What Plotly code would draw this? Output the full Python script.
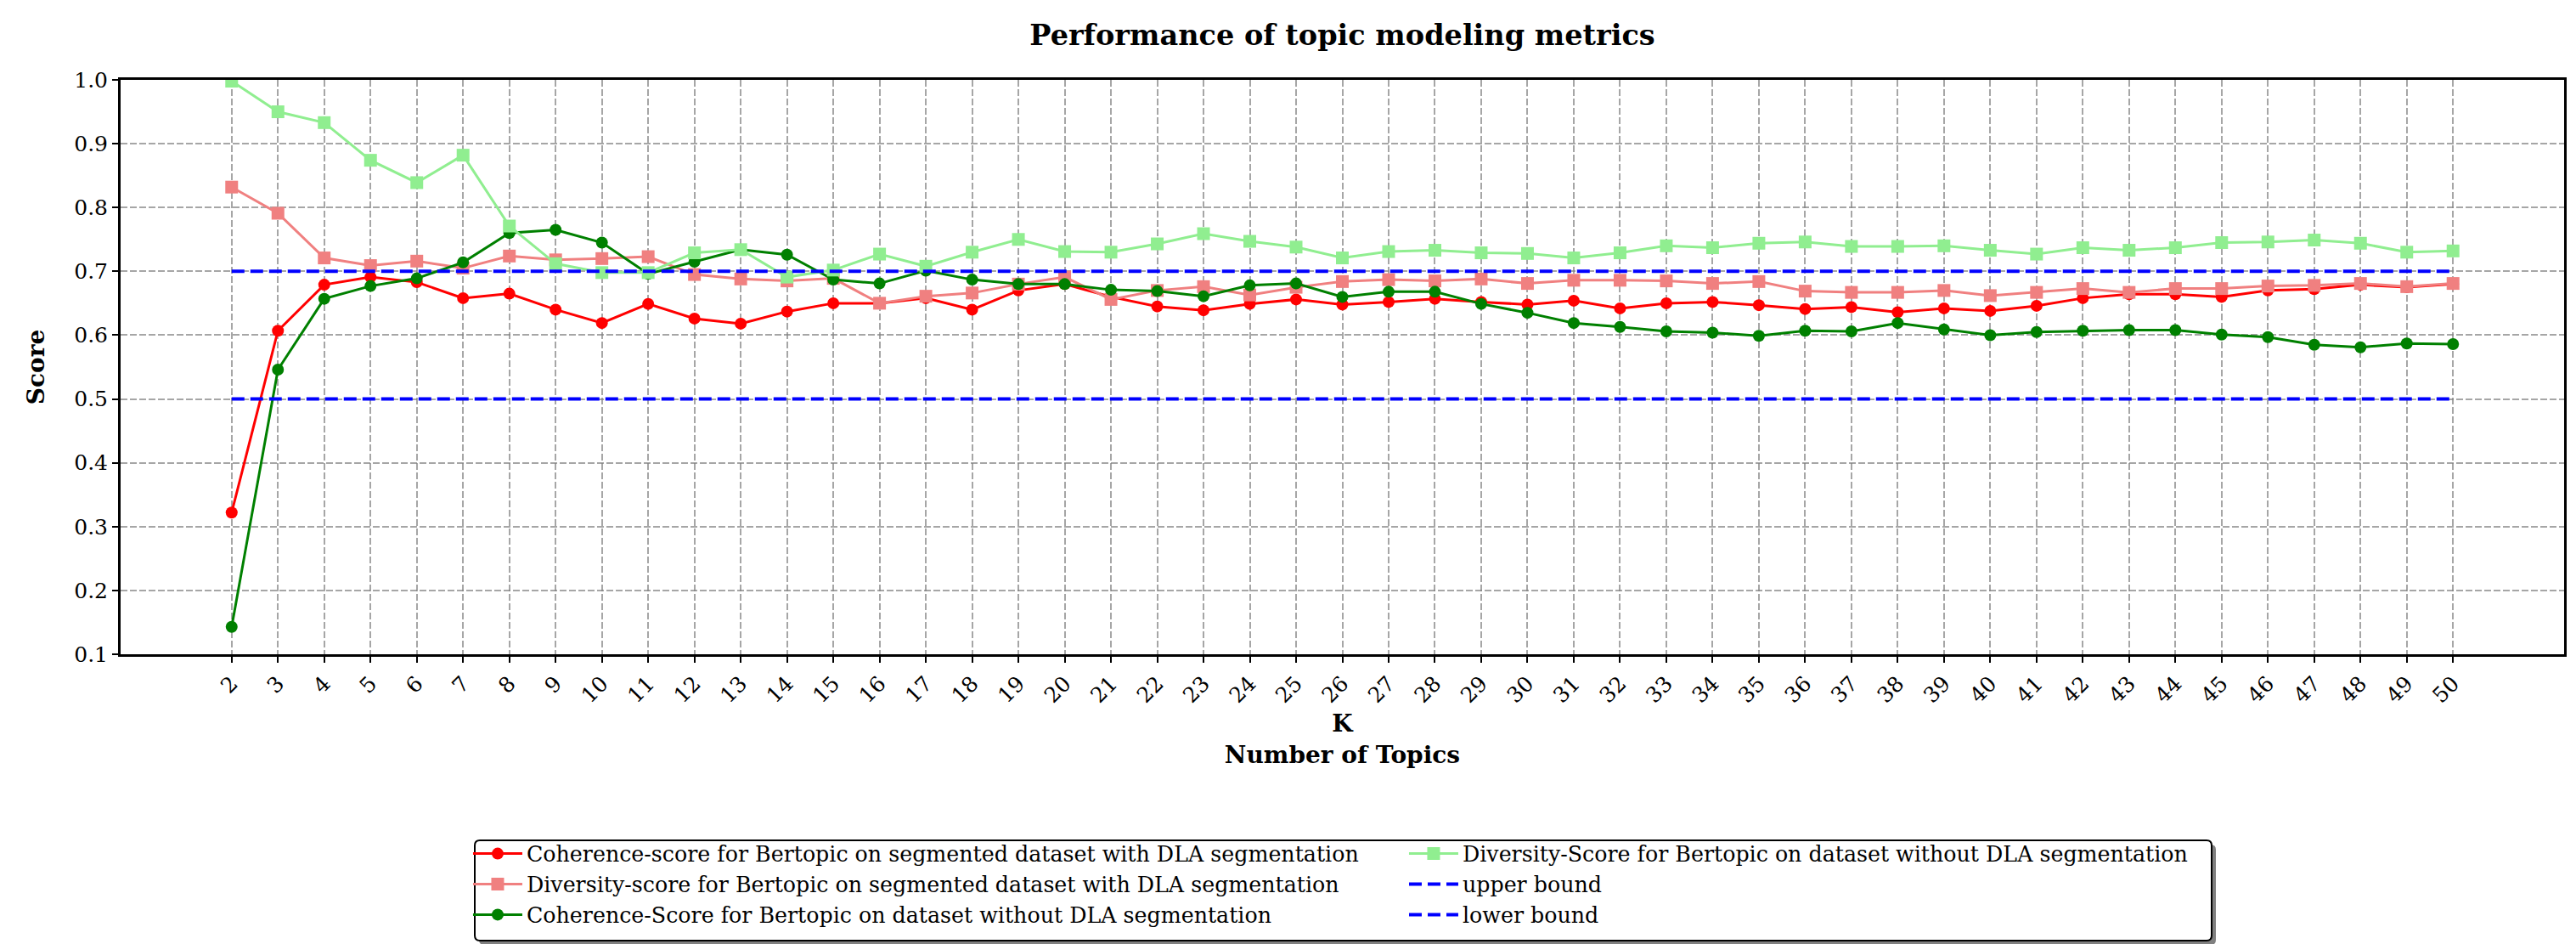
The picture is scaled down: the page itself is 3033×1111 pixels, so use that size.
import plotly.graph_objects as go

K = list(range(2, 51))

coh_dla = [0.322, 0.607, 0.679, 0.691, 0.683, 0.658, 0.665, 0.640, 0.619, 0.649,
           0.626, 0.618, 0.637, 0.650, 0.650, 0.658, 0.640, 0.670, 0.680, 0.660,
           0.645, 0.639, 0.649, 0.656, 0.648, 0.652, 0.657, 0.652, 0.648, 0.654,
           0.642, 0.650, 0.652, 0.647, 0.641, 0.644, 0.636, 0.642, 0.638, 0.646,
           0.658, 0.664, 0.664, 0.660, 0.670, 0.672, 0.679, 0.675, 0.680]

div_dla = [0.832, 0.791, 0.721, 0.709, 0.716, 0.705, 0.724, 0.718, 0.720, 0.723,
           0.695, 0.688, 0.685, 0.689, 0.650, 0.661, 0.666, 0.680, 0.691, 0.656,
           0.670, 0.676, 0.663, 0.675, 0.684, 0.687, 0.685, 0.688, 0.681, 0.686,
           0.686, 0.685, 0.681, 0.684, 0.669, 0.667, 0.667, 0.670, 0.662, 0.667,
           0.673, 0.667, 0.673, 0.673, 0.677, 0.678, 0.681, 0.676, 0.681]

coh_nodla = [0.143, 0.546, 0.657, 0.677, 0.689, 0.714, 0.760, 0.765, 0.745, 0.696,
             0.715, 0.734, 0.726, 0.687, 0.681, 0.701, 0.687, 0.680, 0.680, 0.671,
             0.669, 0.661, 0.678, 0.681, 0.660, 0.668, 0.668, 0.649, 0.635, 0.619,
             0.613, 0.606, 0.604, 0.599, 0.607, 0.606, 0.619, 0.609, 0.600, 0.605,
             0.607, 0.608, 0.608, 0.601, 0.597, 0.585, 0.581, 0.587, 0.586]

div_nodla = [0.998, 0.950, 0.933, 0.874, 0.839, 0.882, 0.771, 0.712, 0.698, 0.698,
             0.729, 0.734, 0.691, 0.702, 0.727, 0.708, 0.730, 0.750, 0.731, 0.730,
             0.743, 0.759, 0.747, 0.738, 0.721, 0.731, 0.733, 0.729, 0.728, 0.721,
             0.729, 0.740, 0.737, 0.744, 0.746, 0.739, 0.739, 0.740, 0.733, 0.727,
             0.737, 0.733, 0.737, 0.745, 0.746, 0.749, 0.744, 0.730, 0.732]

upper_bound = 0.7
lower_bound = 0.5

names = [
    "Coherence-score for Bertopic on segmented dataset with DLA segmentation",
    "Diversity-score for Bertopic on segmented dataset with DLA segmentation",
    "Coherence-Score for Bertopic on dataset without DLA segmentation",
    "Diversity-Score for Bertopic on dataset without DLA segmentation",
    "upper bound",
    "lower bound",
]

FONT = "DejaVu Serif"
W, H = 3033, 1111
ML, MR, MT, MB = 134, 22, 86, 349
PW, PH = W - ML - MR, H - MT - MB

fig = go.Figure()

series = [
    (coh_dla, "red", "circle", 14, 1),
    (div_dla, "#F08080", "square", 15, 3),
    (coh_nodla, "green", "circle", 14, 5),
    (div_nodla, "#90EE90", "square", 15, 2),
]
for i, (vals, col, sym, ms, rank) in enumerate(series):
    fig.add_trace(go.Scatter(
        x=K, y=vals, name=names[i], mode="lines+markers",
        line=dict(color=col, width=3),
        marker=dict(color=col, symbol=sym, size=ms, line=dict(width=0)),
        legendrank=rank,
    ))

fig.add_trace(go.Scatter(x=K, y=[upper_bound] * len(K), name=names[4], mode="lines",
                         line=dict(color="blue", width=4, dash="15px,7px"), legendrank=4))
fig.add_trace(go.Scatter(x=K, y=[lower_bound] * len(K), name=names[5], mode="lines",
                         line=dict(color="blue", width=4, dash="15px,7px"), legendrank=6))


# legend frame with rounded corners and drop shadow (pixel -> paper helpers)
def px_x(p):
    return (p - ML) / PW


def px_y(p):
    return (H - MB - p) / PH


def rounded(x0, y0, x1, y1, r):
    X0, X1 = px_x(x0), px_x(x1)
    Y0, Y1 = px_y(y0), px_y(y1)
    rx, ry = r / PW, r / PH
    return (f"M {X0 + rx},{Y0} L {X1 - rx},{Y0} Q {X1},{Y0} {X1},{Y0 - ry} "
            f"L {X1},{Y1 + ry} Q {X1},{Y1} {X1 - rx},{Y1} "
            f"L {X0 + rx},{Y1} Q {X0},{Y1} {X0},{Y1 + ry} "
            f"L {X0},{Y0 - ry} Q {X0},{Y0} {X0 + rx},{Y0} Z")


box = (551, 981, 2596, 1099)
fig.add_shape(type="path", xref="paper", yref="paper",
              path=rounded(box[0] + 5, box[1] + 5, box[2] + 5, box[3] + 5, 6),
              fillcolor="#808080", line=dict(width=0), layer="below")
fig.add_shape(type="path", xref="paper", yref="paper",
              path=rounded(*box, 6),
              fillcolor="white", line=dict(color="black", width=2), layer="below")

fig.update_layout(
    width=W, height=H,
    paper_bgcolor="white", plot_bgcolor="white",
    margin=dict(l=ML, r=MR, t=MT, b=MB),
    font=dict(family=FONT, size=25, color="black"),
    title=dict(text="Performance of topic modeling metrics", xref="paper", x=0.5, xanchor="center",
               y=0.97, yanchor="middle",
               font=dict(family=FONT, size=33.5, weight="bold")),
    showlegend=True,
    legend=dict(
        orientation="h", x=0.1425, xanchor="left", y=-0.3131, yanchor="top",
        entrywidth=1029, entrywidthmode="pixels", itemwidth=58,
        font=dict(family=FONT, size=25.3), bgcolor="rgba(0,0,0,0)",
        borderwidth=0,
    ),
)

fig.update_xaxes(
    range=[-0.4, 52.4], tickmode="array", tickvals=K, ticktext=[str(k) for k in K],
    tickangle=-45, ticks="outside", ticklen=7, tickwidth=2, tickcolor="black",
    showline=True, linecolor="black", linewidth=3, mirror=True,
    showgrid=True, gridcolor="rgba(128,128,128,0.7)", gridwidth=1.5, griddash="8px,3px",
    zeroline=False,
    title=dict(text="K<br>Number of Topics", font=dict(family=FONT, size=28, weight="bold"), standoff=10),
)
fig.update_yaxes(
    range=[0.1, 1.0], tick0=0.1, dtick=0.1, tickformat=".1f",
    ticks="outside", ticklen=7, tickwidth=2, tickcolor="black",
    showline=True, linecolor="black", linewidth=3, mirror=True,
    showgrid=True, gridcolor="rgba(128,128,128,0.7)", gridwidth=1.5, griddash="8px,3px",
    zeroline=False,
    title=dict(text="Score", font=dict(family=FONT, size=28, weight="bold"), standoff=27),
)

fig.write_html("out.html")
